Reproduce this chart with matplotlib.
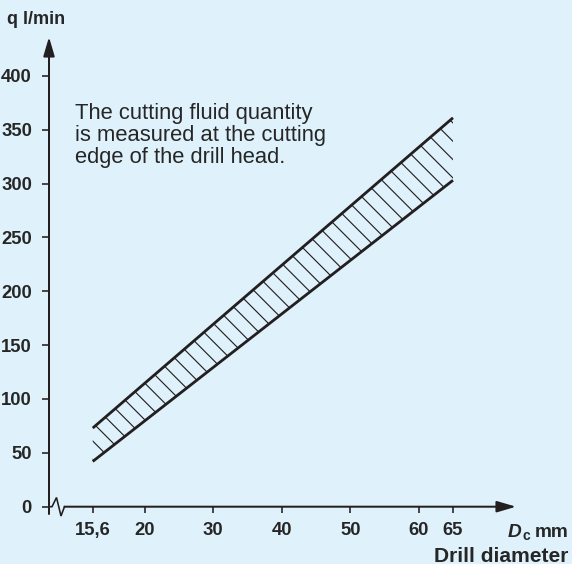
import numpy as np
import matplotlib
matplotlib.use("Agg")
import matplotlib.pyplot as plt

# ---------------- data ----------------
diameters = [15.6, 65]          # drill diameter D_c (mm)
q_low = [42, 303]               # lower limit of cutting fluid quantity (l/min)
q_high = [73, 361]              # upper limit (l/min)

x_ticks = [15.6, 20, 30, 40, 50, 60, 65]
x_tick_labels = ["15,6", "20", "30", "40", "50", "60", "65"]
y_ticks = [0, 50, 100, 150, 200, 250, 300, 350, 400]
y_tick_labels = [str(v) for v in y_ticks]

note_lines = ["The cutting fluid quantity",
              "is measured at the cutting",
              "edge of the drill head."]

# ---------------- style ----------------
DPI = 110
W, H = 572, 564
BG = "#dff2fb"
DARK = "#231f20"
TXT = "#262626"
plt.rcParams["font.family"] = ["Liberation Sans", "DejaVu Sans"]
plt.rcParams["hatch.linewidth"] = 0.75


def pt(px):
    return px * 72.0 / DPI


fig = plt.figure(figsize=(W / DPI, H / DPI), dpi=DPI, facecolor=BG)

# axes frame (pixel geometry of the reference)
AX_L, AX_R, AX_T, AX_B = 49, 516, 37, 506.7
ax = fig.add_axes([AX_L / W, (H - AX_B) / H, (AX_R - AX_L) / W, (AX_B - AX_T) / H])
ax.set_facecolor("none")

# broken x axis: the segment below 20 mm is stretched
K = 1.725


def fwd(x):
    x = np.asarray(x, dtype=float)
    return np.where(x < 20, 20 - (20 - x) * K, x)


def inv(t):
    t = np.asarray(t, dtype=float)
    return np.where(t < 20, 20 - (20 - t) / K, t)


ax.set_xscale("function", functions=(fwd, inv))
ax.set_xlim(11.9, 74.2)
ax.set_ylim(0, 436)

for s in ax.spines.values():
    s.set_visible(False)


def axfrac(px, py):
    return ((px - AX_L) / (AX_R - AX_L), (AX_B - py) / (AX_B - AX_T))


# band with hatching
ax.fill_between(diameters, q_low, q_high, facecolor="none", edgecolor=DARK,
                linewidth=0, hatch="\\\\")
ax.plot(diameters, q_low, color=DARK, lw=pt(2.8), solid_capstyle="butt")
ax.plot(diameters, q_high, color=DARK, lw=pt(2.8), solid_capstyle="butt")

# axes with arrows
arrow_style = "-|>,head_length=1.05,head_width=0.31"
ax.annotate("", xy=(0, 1), xycoords="axes fraction",
            xytext=axfrac(AX_L, 514), textcoords="axes fraction",
            arrowprops=dict(arrowstyle=arrow_style, color=DARK, lw=pt(2.0),
                            shrinkA=0, shrinkB=0, mutation_scale=10))
ax.annotate("", xy=(1, 0), xycoords="axes fraction",
            xytext=axfrac(64.5, AX_B), textcoords="axes fraction",
            arrowprops=dict(arrowstyle=arrow_style, color=DARK, lw=pt(2.0),
                            shrinkA=0, shrinkB=0, mutation_scale=10))
# axis break zigzag
zz = [axfrac(px, py) for px, py in [(AX_L, AX_B), (52, AX_B), (56.5, 497.5),
                                     (61, 516), (64.5, AX_B)]]
ax.plot([p[0] for p in zz], [p[1] for p in zz], transform=ax.transAxes,
        color=DARK, lw=pt(1.6), clip_on=False, solid_joinstyle="miter")

# ticks
ax.set_xticks(x_ticks)
ax.set_xticklabels(x_tick_labels)
ax.set_yticks(y_ticks)
ax.set_yticklabels(y_tick_labels)
ax.xaxis.set_minor_locator(plt.NullLocator())
ax.tick_params(axis="x", direction="out", length=pt(5.5), width=pt(1.6),
               color=DARK, pad=pt(10), labelsize=pt(18.5), labelcolor=TXT)
ax.tick_params(axis="y", direction="out", length=pt(6.5), width=pt(1.6),
               color=DARK, pad=pt(10.5), labelsize=pt(18.5), labelcolor=TXT)
for lab in ax.get_xticklabels() + ax.get_yticklabels():
    lab.set_fontweight("bold")

# texts
ax.text(*axfrac(7, 24), "q l/min", transform=ax.transAxes, fontsize=pt(18),
        fontweight="bold", color=TXT, ha="left", va="baseline", clip_on=False)

for i, line in enumerate(note_lines):
    ax.text(*axfrac(75, 119.3 + 22 * i), line, transform=ax.transAxes,
            fontsize=pt(22), color=TXT, ha="left", va="baseline")

tD = ax.text(*axfrac(508, 536.7), "D", transform=ax.transAxes, fontsize=pt(19),
             fontweight="bold", fontstyle="italic", color=TXT, ha="left",
             va="baseline", clip_on=False)
ax.annotate("c", xy=(1, 0), xycoords=tD, xytext=(0.6, -1.8),
            textcoords="offset points", fontsize=pt(14), fontweight="bold",
            color=TXT, ha="left", va="bottom", annotation_clip=False)
ax.text(*axfrac(568, 536.7), "mm", transform=ax.transAxes, fontsize=pt(19),
        fontweight="bold", color=TXT, ha="right", va="baseline", clip_on=False)
ax.text(*axfrac(568, 561.5), "Drill diameter", transform=ax.transAxes,
        fontsize=pt(21), fontweight="bold", color=TXT, ha="right",
        va="baseline", clip_on=False)

fig.savefig("out.png", dpi=DPI, facecolor=BG)
